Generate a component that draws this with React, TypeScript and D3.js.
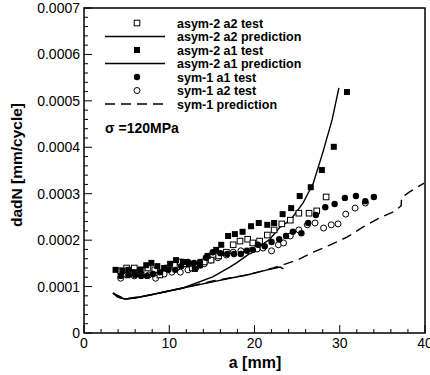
import React from "react";
import * as d3 from "d3";

// a [mm], dadN in 1e-4 mm/cycle
const asym2A2TestA = [4.3, 5.0, 5.9, 6.7, 7.5, 8.3, 8.9, 9.8, 10.6, 11.3, 12.0, 12.7, 13.4, 14.1, 14.9, 15.8, 16.7, 17.5, 18.3, 19.2, 19.8, 20.6, 21.5, 22.3, 23.2, 24.2, 25.2, 26.4, 27.3, 28.4];
const asym2A2TestV = [1.34, 1.40, 1.40, 1.36, 1.40, 1.36, 1.25, 1.40, 1.46, 1.53, 1.49, 1.40, 1.46, 1.53, 1.57, 1.66, 1.74, 1.90, 1.98, 2.02, 1.94, 1.98, 2.11, 2.22, 2.35, 2.43, 2.58, 2.58, 2.63, 2.93];

const asym2A1TestA = [3.7, 4.5, 5.2, 5.9, 6.6, 7.3, 7.9, 8.6, 9.4, 10.1, 10.8, 11.6, 12.3, 13.0, 13.6, 14.5, 15.5, 16.1, 16.9, 17.7, 18.6, 19.6, 20.5, 21.5, 22.3, 23.3, 24.3, 25.3, 26.6, 27.9, 29.3, 30.85];
const asym2A1TestV = [1.36, 1.34, 1.36, 1.31, 1.36, 1.46, 1.51, 1.44, 1.40, 1.49, 1.57, 1.53, 1.49, 1.38, 1.46, 1.66, 1.79, 1.90, 2.09, 2.13, 2.18, 2.30, 2.37, 2.33, 2.37, 2.56, 2.69, 2.95, 3.14, 3.51, 4.01, 5.19];

const sym1A1TestA = [4.3, 5.2, 6.0, 6.7, 7.4, 8.1, 8.9, 9.9, 10.7, 11.4, 12.2, 12.9, 13.6, 14.3, 15.1, 16.0, 16.8, 17.6, 18.4, 19.1, 19.8, 20.4, 21.2, 22.0, 22.9, 23.7, 24.5, 25.5, 26.3, 27.2, 28.3, 29.4, 30.6, 31.9, 33.0, 34.0];
const sym1A1TestV = [1.23, 1.25, 1.25, 1.23, 1.23, 1.27, 1.31, 1.36, 1.36, 1.44, 1.53, 1.51, 1.53, 1.62, 1.74, 1.72, 1.70, 1.70, 1.70, 1.77, 1.79, 1.90, 1.87, 1.96, 2.02, 2.09, 2.18, 2.15, 2.37, 2.54, 2.71, 2.78, 2.91, 2.95, 2.84, 2.93];

const sym1A2TestA = [4.3, 5.0, 5.9, 6.7, 7.6, 8.4, 9.4, 10.3, 11.3, 12.2, 13.1, 14.1, 14.9, 15.7, 16.7, 17.5, 18.4, 19.5, 20.3, 21.0, 22.0, 22.8, 23.4, 24.2, 25.2, 26.2, 27.1, 28.1, 29.0, 29.8, 30.7, 31.8, 33.0];
const sym1A2TestV = [1.18, 1.25, 1.23, 1.27, 1.25, 1.18, 1.27, 1.31, 1.31, 1.36, 1.40, 1.49, 1.57, 1.62, 1.68, 1.74, 1.77, 1.77, 1.81, 1.83, 1.77, 1.90, 1.94, 2.09, 2.22, 2.33, 2.37, 2.26, 2.33, 2.35, 2.56, 2.69, 2.80];

const asym2A1PredA = [3.39, 3.98, 4.8, 5.97, 7.74, 11.6, 15.1, 17.1, 17.9, 19.5, 20.3, 21.8, 23.0, 24.2, 25.7, 26.9, 28.0, 29.1, 29.9];
const asym2A1PredV = [0.861, 0.775, 0.732, 0.754, 0.818, 0.969, 1.21, 1.42, 1.51, 1.72, 1.83, 2.02, 2.28, 2.43, 2.80, 3.23, 3.88, 4.59, 5.28];

const asym2A2PredA = [3.39, 3.98, 4.8, 5.97, 7.74, 11.6, 15.1, 17.1, 19.1, 21.5, 22.5, 23.0, 23.4];
const asym2A2PredV = [0.861, 0.775, 0.732, 0.754, 0.818, 0.969, 1.10, 1.18, 1.25, 1.36, 1.40, 1.42, 1.38];

const sym1PredA = [3.39, 4.8, 7.74, 11.6, 15.1, 19.1, 22.2, 25.0, 26.9, 28.9, 30.9, 32.7, 34.7, 36.3, 37.2, 37.25, 38.2, 39.9];
const sym1PredV = [0.861, 0.732, 0.818, 0.969, 1.12, 1.25, 1.40, 1.57, 1.74, 1.90, 2.07, 2.28, 2.48, 2.61, 2.74, 2.92, 3.04, 3.23];

const xTicks = [0, 10, 20, 30, 40];
const yTicks = [0, 0.0001, 0.0002, 0.0003, 0.0004, 0.0005, 0.0006, 0.0007];
const legendLabels = [
  "asym-2 a2 test",
  "asym-2 a2 prediction",
  "asym-2 a1 test",
  "asym-2 a1 prediction",
  "sym-1 a1 test",
  "sym-1 a2 test",
  "sym-1 prediction",
];

const W = 430;
const H = 375;
const L = 84, R = 425, T = 8, B = 333;
const FONT = "'Liberation Sans', Arial, Helvetica, sans-serif";

const zip = (a: number[], v: number[]) => a.map((x, i) => [x, v[i] * 1e-4] as [number, number]);

export default function App() {
  const x = d3.scaleLinear().domain([0, 40]).range([L, R]);
  const y = d3.scaleLinear().domain([0, 0.0007]).range([B, T]);
  const line = d3.line<[number, number]>().x(d => x(d[0])).y(d => y(d[1]));

  const xMinor = d3.range(0, 40.001, 2).filter(v => v % 10 !== 0);
  const yMinor = d3.range(0, 0.0007001, 0.00002).filter(v => Math.abs(v / 0.0001 - Math.round(v / 0.0001)) > 1e-6);

  const s2a2 = zip(asym2A2TestA, asym2A2TestV);
  const s2a1 = zip(asym2A1TestA, asym2A1TestV);
  const s1a1 = zip(sym1A1TestA, sym1A1TestV);
  const s1a2 = zip(sym1A2TestA, sym1A2TestV);

  const legY0 = 23, legDy = 13.5, legSym = 137, legX1 = 105, legX2 = 165, legText = 177;

  const sym = (k: string, cx: number, cy: number, key: any) => {
    if (k === "osq") return <rect key={key} x={cx - 2.8} y={cy - 2.8} width={5.6} height={5.6} fill="white" stroke="black" strokeWidth={1} />;
    if (k === "fsq") return <rect key={key} x={cx - 3} y={cy - 3} width={6} height={6} fill="black" />;
    if (k === "fc") return <circle key={key} cx={cx} cy={cy} r={3.2} fill="black" />;
    return <circle key={key} cx={cx} cy={cy} r={3} fill="white" stroke="black" strokeWidth={1} />;
  };

  const legendKinds = ["osq", "line", "fsq", "line", "fc", "oc", "dash"];

  return (
    <svg width={W} height={H} style={{ position: "absolute", left: 0, top: 0, background: "white" }} fontFamily={FONT}>
      <rect x={0} y={0} width={W} height={H} fill="white" />
      {/* predictions */}
      <path d={line(zip(sym1PredA, sym1PredV)) || ""} fill="none" stroke="black" strokeWidth={1.4} strokeDasharray="10,6" />
      <path d={line(zip(asym2A2PredA, asym2A2PredV)) || ""} fill="none" stroke="black" strokeWidth={1.4} />
      <path d={line(zip(asym2A1PredA, asym2A1PredV)) || ""} fill="none" stroke="black" strokeWidth={1.4} />
      {/* test data */}
      {s1a2.map((d, i) => sym("oc", x(d[0]), y(d[1]), "oc" + i))}
      {s2a2.map((d, i) => sym("osq", x(d[0]), y(d[1]), "osq" + i))}
      {s1a1.map((d, i) => sym("fc", x(d[0]), y(d[1]), "fc" + i))}
      {s2a1.map((d, i) => sym("fsq", x(d[0]), y(d[1]), "fsq" + i))}

      {/* frame */}
      <rect x={L} y={T} width={R - L} height={B - T} fill="none" stroke="black" strokeWidth={1.5} />
      {/* x ticks */}
      {xTicks.map(v => (
        <g key={"xt" + v}>
          <line x1={x(v)} x2={x(v)} y1={B} y2={B - 8} stroke="black" strokeWidth={1} />
          <text x={x(v)} y={B + 15} textAnchor="middle" fontSize={14}>{v}</text>
        </g>
      ))}
      {xMinor.map(v => <line key={"xm" + v} x1={x(v)} x2={x(v)} y1={B} y2={B - 4} stroke="black" strokeWidth={1} />)}
      {yTicks.map(v => (
        <g key={"yt" + v}>
          <line x1={L} x2={L + 8} y1={y(v)} y2={y(v)} stroke="black" strokeWidth={1} />
          <text x={L - 4} y={y(v) + 5} textAnchor="end" fontSize={14}>{v === 0 ? "0" : v.toFixed(4)}</text>
        </g>
      ))}
      {yMinor.map((v, i) => <line key={"ym" + i} x1={L} x2={L + 4} y1={y(v)} y2={y(v)} stroke="black" strokeWidth={1} />)}

      {/* axis titles */}
      <text x={255} y={368} textAnchor="middle" fontSize={16} fontWeight="bold">a [mm]</text>
      <text transform={`translate(22,165) rotate(-90)`} textAnchor="middle" fontSize={15.5} fontWeight="bold">dadN [mm/cycle]</text>

      {/* legend */}
      {legendLabels.map((lab, i) => {
        const cy = legY0 + i * legDy;
        const k = legendKinds[i];
        return (
          <g key={"lg" + i}>
            {k === "line" && <line x1={legX1} x2={legX2} y1={cy} y2={cy} stroke="black" strokeWidth={1.4} />}
            {k === "dash" && <line x1={legX1} x2={legX2} y1={cy} y2={cy} stroke="black" strokeWidth={1.4} strokeDasharray="10,6" />}
            {k !== "line" && k !== "dash" && sym(k, legSym, cy, "ls" + i)}
            <text x={legText} y={cy + 4.5} fontSize={12.5} fontWeight="bold">{lab}</text>
          </g>
        );
      })}
      <text x={105} y={133} fontSize={14} fontWeight="bold">σ =120MPa</text>
    </svg>
  );
}
